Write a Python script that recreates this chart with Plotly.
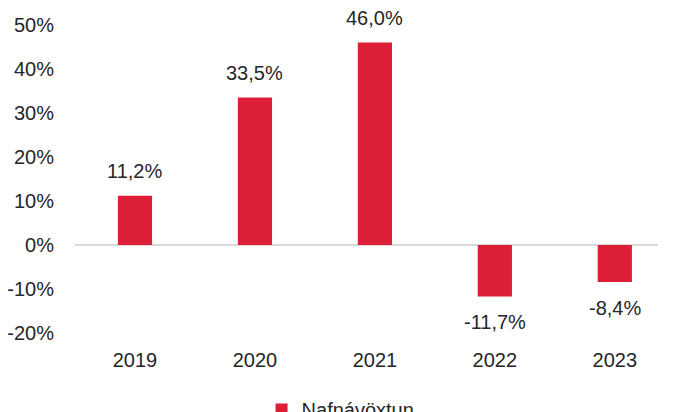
import plotly.graph_objects as go

# Data
years = ["2019", "2020", "2021", "2022", "2023"]
returns = [11.2, 33.5, 46.0, -11.7, -8.4]
y_ticks = [-20, -10, 0, 10, 20, 30, 40, 50]

fig = go.Figure()

fig.add_trace(
    go.Bar(
        x=years,
        y=returns,
        name="Nafnávöxtun",
        marker=dict(color="#DC1F37", line=dict(width=0)),
        width=0.285,
    )
)

# value labels, a bit away from the bar ends (x given as category index)
for i, v in enumerate(returns):
    fig.add_annotation(
        x=i,
        y=v,
        text=f"{v:.1f}%".replace(".", ","),
        showarrow=False,
        yanchor="bottom" if v >= 0 else "top",
        yshift=12 if v >= 0 else -13,
        font=dict(size=20, color="#262626"),
    )

# margins allow for the 8px page margin around the plot div
fig.update_layout(
    width=673,
    height=412,
    margin=dict(l=67, r=23, t=17, b=87, autoexpand=False),
    plot_bgcolor="white",
    paper_bgcolor="white",
    font=dict(family="Liberation Sans, Arial", size=20, color="#262626"),
    showlegend=True,
    legend=dict(
        orientation="h",
        x=0.32,
        xanchor="left",
        y=-0.185,
        yanchor="top",
        font=dict(size=20),
        itemwidth=30,
    ),
    xaxis=dict(
        type="category",
        range=[-0.5, 4.36],
        showgrid=False,
        showline=False,
        ticks="",
        ticklabelstandoff=13,
    ),
    yaxis=dict(
        range=[-20, 50],
        tickvals=y_ticks,
        ticktext=[f"{v}%" for v in y_ticks],
        showgrid=False,
        zeroline=True,
        zerolinecolor="#D9D9D9",
        zerolinewidth=2,
        ticks="",
        ticklabelstandoff=20,
    ),
)

fig.write_html("out.html")
